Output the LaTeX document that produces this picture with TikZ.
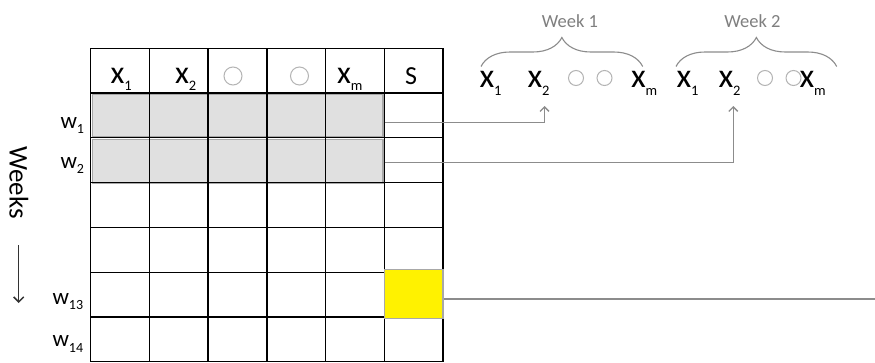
\documentclass[tikz,border=0pt]{standalone}
\usepackage{fontspec}
\setmainfont{Carlito}
\usetikzlibrary{decorations.pathreplacing,arrows.meta}
\definecolor{cellgray}{HTML}{E0E0E0}
\definecolor{edgegray}{HTML}{A8A8A8}
\definecolor{conngray}{HTML}{8C8C8C}
\definecolor{textgray}{HTML}{7F7F7F}
\definecolor{ringgray}{HTML}{B4B4B4}
\definecolor{arrowdark}{HTML}{333333}
\newcommand\hdx[1]{{\fontsize{32}{32}\selectfont x}\raisebox{-7.5pt}{\fontsize{14.5}{14.5}\selectfont #1}}
\newcommand\rtx[1]{{\fontsize{34}{34}\selectfont x}\raisebox{-8pt}{\fontsize{14.5}{14.5}\selectfont #1}}
\newcommand\wlab[1]{{\fontsize{23}{23}\selectfont w}\raisebox{-5.5pt}{\fontsize{14}{14}\selectfont #1}}
\begin{document}
\begin{tikzpicture}[x=1pt,y=-1pt,
  lbl/.style={inner sep=0pt,outer sep=0pt,anchor=base west},
  gridline/.style={line width=1.3pt,draw=black},
  shadecell/.style={fill=cellgray,draw=edgegray,line width=1.3pt},
  yellowcell/.style={rectangle,fill=yellow,draw=edgegray,line width=1.3pt,inner sep=0pt,minimum width=58.7pt,minimum height=49pt},
  ring/.style={circle,draw=ringgray,line width=1pt,inner sep=0pt},
  conn/.style={draw=conngray,line width=1.3pt},
  connarrow/.style={conn,-{Straight Barb[length=4.5pt,width=9pt,line width=1.3pt]}},
  weekbrace/.style={draw=conngray,line width=1.1pt,decorate,decoration={brace,amplitude=29pt}},
  weeklbl/.style={inner sep=0pt,text=textgray,font=\fontsize{18.5}{18.5}\selectfont}
]
\useasboundingbox (0,0) rectangle (875,362);
\fill[white] (0,0) rectangle (875,362);

% shaded rows
\path[shadecell] (92.5,94.6) rectangle (383,137);
\path[shadecell] (92.5,139.4) rectangle (383,183.6);

% grid
\foreach \xx in {90.7,149.4,208.1,266.9,325.6,384.3,443}
  \draw[gridline] (\xx,48.3) -- (\xx,362);
\foreach \yy in {48.3,93.1,137.8,182.6,227.4,272.2,316.9,361.4}
  \draw[gridline] (90.7,\yy) -- (443,\yy);

% yellow cell
\node[yellowcell] (s13) at (413.65,294) {};

% header labels
\node[lbl] (h1) at (110.5,83.3) {\hdx{1}};
\node[lbl] (h2) at (175,83.3) {\hdx{2}};
\node[ring,minimum size=18pt] (hc1) at (233,76) {};
\node[ring,minimum size=18pt] (hc2) at (299.5,76) {};
\node[lbl] (hm) at (337,83.3) {\hdx{m}};
\node[lbl,font=\fontsize{26}{26}\selectfont] (hs) at (405,84) {S};

% week labels
\node[lbl] (w1) at (60.5,128.3) {\wlab{1}};
\node[lbl] (w2) at (60.5,168.3) {\wlab{2}};
\node[lbl] (w13) at (52.5,304) {\wlab{13}};
\node[lbl] (w14) at (52.5,346.7) {\wlab{14}};

% Weeks axis
\node[inner sep=0pt,rotate=-90,font=\fontsize{27}{27}\selectfont] (weeks) at (19,182.5) {Weeks};
\coordinate (wa) at (18.7,245);
\coordinate (wb) at (18.7,303);
\draw[draw=arrowdark,line width=1.5pt,-{Straight Barb[length=5pt,width=10pt,line width=1.5pt]}] (wa) -- (wb);

% right row
\node[lbl] (a1) at (479.5,87.3) {\rtx{1}};
\node[lbl] (a2) at (527.5,87.3) {\rtx{2}};
\node[ring,minimum size=15pt] (ac1) at (576,78) {};
\node[ring,minimum size=15pt] (ac2) at (604.5,78) {};
\node[lbl] (am) at (631,87.3) {\rtx{m}};
\node[lbl] (b1) at (676.5,87.3) {\rtx{1}};
\node[lbl] (b2) at (718.5,87.3) {\rtx{2}};
\node[ring,minimum size=15pt] (bc1) at (765,78) {};
\node[ring,minimum size=15pt] (bc2) at (793.5,78) {};
\node[lbl] (bm) at (799.5,87.3) {\rtx{m}};

% braces
\draw[weekbrace] (481,66.5) -- (642.7,66.5);
\draw[weekbrace] (676,66.5) -- (836.7,66.5);
\node[weeklbl] (wk1) at (570,21) {Week 1};
\node[weeklbl] (wk2) at (752.5,21) {Week 2};

% connectors
\coordinate (s1) at (384.5,122.5);
\coordinate (s2) at (384.5,162.3);
\coordinate (t1) at (544.5,106);
\coordinate (t2) at (733.3,106);
\coordinate (edge) at (875,299);
\draw[connarrow] (s1) -| (t1);
\draw[connarrow] (s2) -| (t2);
\draw[conn] (s13.east |- edge) -- (edge);
\end{tikzpicture}
\end{document}
